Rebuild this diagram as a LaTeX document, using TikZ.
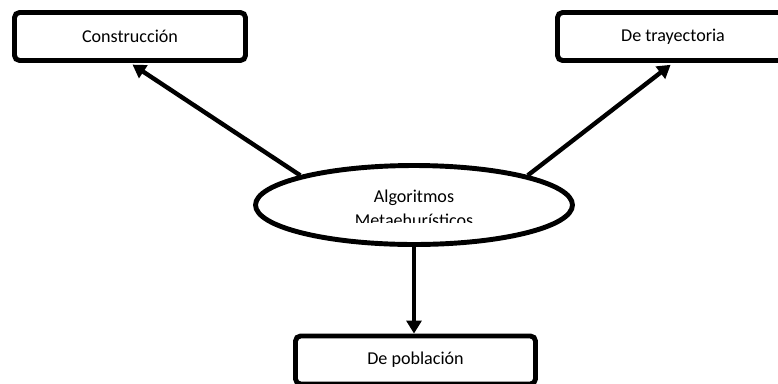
\documentclass[tikz,border=0pt]{standalone}
\usepackage{fontspec}
\setmainfont{Carlito}
\usetikzlibrary{shapes.geometric,arrows.meta}

\begin{document}
\begin{tikzpicture}[x=0.02cm,y=-0.02cm]
\tikzstyle{every node}+=[inner sep=0pt, font=\fontsize{10.3}{12}\selectfont]
\tikzstyle{caja}=[draw=black, line width=2.8pt, rounded corners=0.1cm, minimum width=4.62cm, minimum height=0.96cm]
\tikzstyle{flecha}=[black, line width=2.5pt, shorten >=0.06cm, -{Triangle[length=0.26cm,width=0.3cm]}]
\useasboundingbox (0,0) rectangle (778,383);
\node [caja] (constr) at (130,36.5) {Construcción};
\node [caja] (tray) at (673,36.5) {De trayectoria};
\node [caja, minimum width=4.8cm] (pobl) at (415.5,360) {De población};
\node [draw=black, line width=2.8pt, ellipse, minimum width=6.34cm, minimum height=1.58cm] (alg) at (414,205) {};
\begin{scope}
\clip (250,150) rectangle (580,222);
\node [anchor=base] (alg1) at (414,202) {Algoritmos};
\node [anchor=base] (alg2) at (414,226) {Metaehurísticos};
\end{scope}
\draw [flecha] (alg.north west) -- (constr.south);
\draw [flecha] (alg.north east) -- (tray.south);
\draw [flecha, shorten >=0pt] (alg.south) -- (alg.south |- pobl.north);
\end{tikzpicture}
\end{document}
